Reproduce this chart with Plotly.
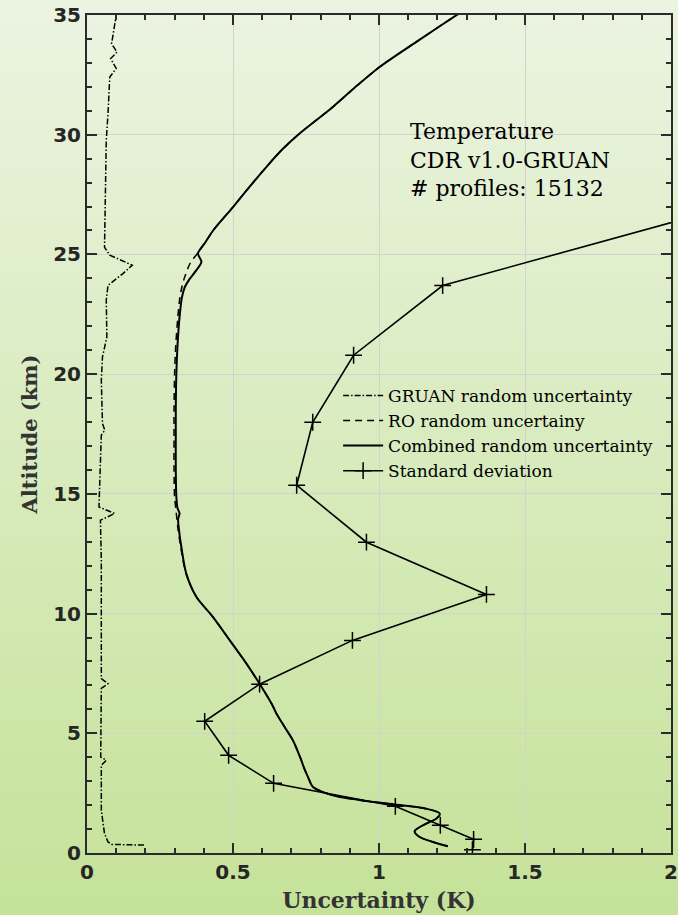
import base64, struct, zlib
import plotly.graph_objects as go

# ---------------- data ----------------
gruan_alt = [0.33, 0.36, 0.46, 0.81, 1.78, 3.66, 3.87, 4.01, 6.87, 7.07, 7.28, 8.47, 12.23, 13.9, 14.18,
             14.45, 17.45, 17.66, 17.94, 19.75, 20.72, 21.55, 23.1, 23.71, 24.2, 24.55, 24.97, 25.3,
             27.5, 29.77, 30.89, 32.41, 32.77, 33.18, 33.45, 33.8, 34.15, 35.0]
gruan_unc = [0.195, 0.085, 0.072, 0.060, 0.049, 0.049, 0.066, 0.047, 0.049, 0.072, 0.049, 0.049, 0.049, 0.046, 0.095,
             0.041, 0.049, 0.061, 0.053, 0.049, 0.053, 0.068, 0.066, 0.072, 0.123, 0.155, 0.078, 0.060,
             0.062, 0.066, 0.072, 0.078, 0.100, 0.081, 0.103, 0.084, 0.089, 0.100]

comb_alt = [0.28, 0.46, 0.67, 0.91, 1.23, 1.44, 1.65, 1.85, 2.02, 2.17, 2.41, 2.76, 3.17, 3.5, 3.87, 4.3,
            4.71, 5.26, 5.82, 6.24, 7.07, 7.91, 8.88, 9.86, 10.69, 11.67, 12.79, 13.5, 13.95, 14.18, 14.4,
            14.87, 16.0, 17.38, 18.5, 20.02, 21.2, 22.39, 23.2, 23.64, 23.95, 24.3, 24.69, 25.04, 25.5,
            26.0, 26.98, 27.8, 28.65, 29.4, 30.05, 31.16, 32.0, 32.83, 33.88, 34.99, 35.5]
comb_unc = [1.236, 1.185, 1.139, 1.122, 1.162, 1.197, 1.208, 1.162, 1.06, 0.957, 0.842, 0.774, 0.757, 0.745, 0.734, 0.72,
            0.705, 0.677, 0.649, 0.632, 0.591, 0.546, 0.489, 0.431, 0.375, 0.340, 0.323, 0.315, 0.312, 0.317, 0.310,
            0.306, 0.304, 0.304, 0.304, 0.306, 0.310, 0.317, 0.325, 0.335, 0.350, 0.372, 0.392, 0.380, 0.405,
            0.432, 0.500, 0.555, 0.614, 0.670, 0.728, 0.842, 0.920, 1.002, 1.128, 1.265, 1.33]

ro_alt = [0.28, 0.46, 0.67, 0.91, 1.23, 1.44, 1.65, 1.85, 2.02, 2.17, 2.41, 2.76, 3.17, 3.5, 3.87, 4.3,
          4.71, 5.26, 5.82, 6.24, 7.07, 7.91, 8.88, 9.86, 10.69, 11.67, 12.79, 13.5, 14.4,
          14.87, 16.0, 17.38, 18.5, 20.02, 21.2, 22.39, 23.2, 23.64, 24.0, 24.6, 25.04, 25.5,
          26.0, 26.98, 27.8, 28.65, 29.4, 30.05, 31.16, 32.0, 32.83, 33.88, 34.99, 35.5]
ro_unc = [1.236, 1.185, 1.139, 1.122, 1.162, 1.197, 1.208, 1.162, 1.06, 0.957, 0.842, 0.774, 0.757, 0.745, 0.734, 0.72,
          0.705, 0.677, 0.649, 0.632, 0.591, 0.546, 0.489, 0.431, 0.375, 0.339, 0.321, 0.312, 0.304,
          0.300, 0.298, 0.298, 0.298, 0.300, 0.304, 0.311, 0.318, 0.325, 0.333, 0.352, 0.378, 0.405,
          0.432, 0.500, 0.555, 0.614, 0.670, 0.728, 0.842, 0.920, 1.002, 1.128, 1.265, 1.33]

std_alt = [0.14, 0.57, 1.16, 1.95, 2.91, 4.08, 5.5, 7.05, 8.88, 10.8, 12.98, 15.36, 17.99, 20.79, 23.7, 26.6]
std_unc = [1.32, 1.324, 1.21, 1.056, 0.639, 0.485, 0.403, 0.591, 0.909, 1.368, 0.957, 0.718, 0.773, 0.913, 1.218, 2.08]

info_lines = ["Temperature", "CDR v1.0-GRUAN", "# profiles: 15132"]


# ---------------- gradient background (PNG) ----------------
def gradient_png(top, bottom, h=256, w=2):
    rows = b""
    for i in range(h):
        t = i / (h - 1)
        c = bytes(int(round(top[k] + (bottom[k] - top[k]) * t)) for k in range(3))
        rows += b"\x00" + c * w
    def chunk(tag, data):
        return struct.pack(">I", len(data)) + tag + data + struct.pack(">I", zlib.crc32(tag + data) & 0xffffffff)
    png = b"\x89PNG\r\n\x1a\n"
    png += chunk(b"IHDR", struct.pack(">IIBBBBB", w, h, 8, 2, 0, 0, 0))
    png += chunk(b"IDAT", zlib.compress(rows))
    png += chunk(b"IEND", b"")
    return "data:image/png;base64," + base64.b64encode(png).decode()


W, H = 678, 915
L, R, T, B = 87, 7, 15, 62
pw, ph = W - L - R, H - T - B
SERIF = "DejaVu Serif, Liberation Serif, serif"

fig = go.Figure()
fig.add_trace(go.Scatter(x=gruan_unc, y=gruan_alt, mode="lines", name="GRUAN random uncertainty",
                         line=dict(color="black", width=1.5, dash="6px,2px,1.5px,2px")))
fig.add_trace(go.Scatter(x=ro_unc, y=ro_alt, mode="lines", name="RO random uncertainy",
                         line=dict(color="black", width=1.5, dash="7px,5px", shape="spline", smoothing=0.8)))
fig.add_trace(go.Scatter(x=comb_unc, y=comb_alt, mode="lines", name="Combined random uncertainty",
                         line=dict(color="black", width=2, shape="spline", smoothing=0.8)))
fig.add_trace(go.Scatter(x=std_unc, y=std_alt, mode="lines+markers", name="Standard deviation",
                         line=dict(color="black", width=1.6),
                         marker=dict(symbol="cross-thin", size=12, line=dict(color="black", width=1.5))))

fig.add_annotation(x=1.098, y=30.75, xref="x", yref="y", xanchor="left", yanchor="top", align="left",
                   showarrow=False, text="<br>".join(info_lines),
                   font=dict(family=SERIF, size=22, color="black"))

axis_common = dict(showline=True, linecolor="#2b2b2b", linewidth=2, mirror="ticks",
                   ticks="inside", ticklen=10, tickwidth=1.5, tickcolor="#2b2b2b",
                   showgrid=True, gridcolor="#d2d2d2", gridwidth=1, zeroline=False, automargin=False,
                   tickfont=dict(family="DejaVu Sans", size=20, color="#262626", weight="bold"))

fig.update_xaxes(range=[0, 2], tickvals=[0, 0.5, 1, 1.5, 2], ticktext=["0", "0.5", "1", "1.5", "2"],
                 minor=dict(dtick=0.1, ticks="inside", ticklen=5, tickwidth=1.5, tickcolor="#2b2b2b", showgrid=False),
                 title=dict(text="Uncertainty (K)", standoff=10,
                            font=dict(family=SERIF, size=22, color="#333333", weight="bold")),
                 **axis_common)
fig.update_yaxes(range=[0, 35], dtick=5,
                 minor=dict(dtick=1, ticks="inside", ticklen=5, tickwidth=1.5, tickcolor="#2b2b2b", showgrid=False),
                 title=dict(text="Altitude (km)", standoff=10,
                            font=dict(family=SERIF, size=21, color="#333333", weight="bold")),
                 **axis_common)

fig.add_layout_image(dict(source=gradient_png((236, 244, 226), (196, 226, 152)),
                          xref="paper", yref="paper", x=-L / pw - 0.01, y=1 + T / ph + 0.01,
                          sizex=W / pw + 0.03, sizey=H / ph + 0.03, xanchor="left", yanchor="top",
                          sizing="stretch", layer="below"))

fig.update_layout(width=W, height=H, margin=dict(l=L, r=R, t=T, b=B),
                  paper_bgcolor="#d6ebb8", plot_bgcolor="white",
                  legend=dict(x=0.43, y=0.567, xanchor="left", yanchor="top", bgcolor="rgba(0,0,0,0)",
                              font=dict(family=SERIF, size=17, color="black"),
                              itemwidth=40, tracegroupgap=0))

fig.write_html("out.html")
